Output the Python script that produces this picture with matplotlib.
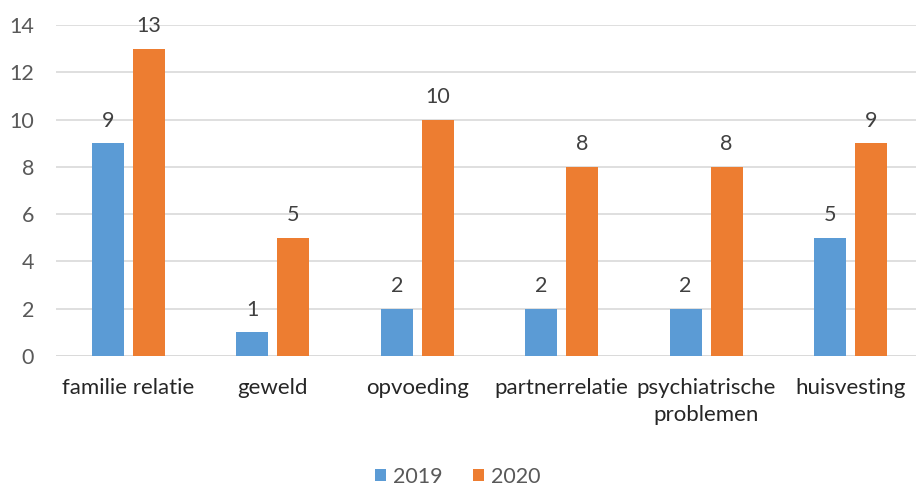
import matplotlib.pyplot as plt
import numpy as np

plt.rcParams["font.family"] = ["Lato", "DejaVu Sans"]

categories = ["familie relatie", "geweld", "opvoeding", "partnerrelatie", "psychiatrische\nproblemen", "huisvesting"]
years = ["2019", "2020"]
values_2019 = [9, 1, 2, 2, 2, 5]
values_2020 = [13, 5, 10, 8, 8, 9]
colors = ["#5B9BD5", "#ED7D31"]

fig = plt.figure(figsize=(9.16, 4.86), dpi=100)
ax = fig.add_axes([56.3 / 916, 130 / 486, 1 - 56.3 / 916, 331 / 486])

x = np.arange(len(categories))
w = 0.222
off = 0.142
for vals, c, lab, sgn in [(values_2019, colors[0], years[0], -1), (values_2020, colors[1], years[1], 1)]:
    bars = ax.bar(x + sgn * off, vals, width=w, color=c, label=lab, zorder=3)
    for b, v in zip(bars, vals):
        ax.annotate(str(v), (b.get_x() + b.get_width() / 2, v), xytext=(0, 9),
                    textcoords="offset points", ha="center", va="bottom",
                    fontsize=15.5, color="#404040")

ax.set_xlim(-0.5, 5.453)
ax.set_ylim(0, 14)
ax.set_yticks(range(0, 15, 2))
ax.grid(axis="y", color="#D9D9D9", linewidth=1.2, zorder=0)
for s in ax.spines.values():
    s.set_visible(False)
ax.axhline(0, color="#D9D9D9", linewidth=1.2, zorder=1)
ax.tick_params(axis="both", length=0)
ax.tick_params(axis="y", labelsize=15.5, labelcolor="#595959", pad=16)
ax.set_xticks(x)
ax.set_xticklabels(categories, fontsize=16, color="#262626", va="top", linespacing=1.4)
ax.tick_params(axis="x", pad=16)

fig.legend(loc="center", bbox_to_anchor=(0.5, 9 / 486), ncol=2, frameon=False,
           fontsize=15.5, handlelength=0.5, handleheight=0.5, handletextpad=0.35,
           columnspacing=1.4, labelcolor="#595959")

fig.savefig("out.png", dpi=100)
